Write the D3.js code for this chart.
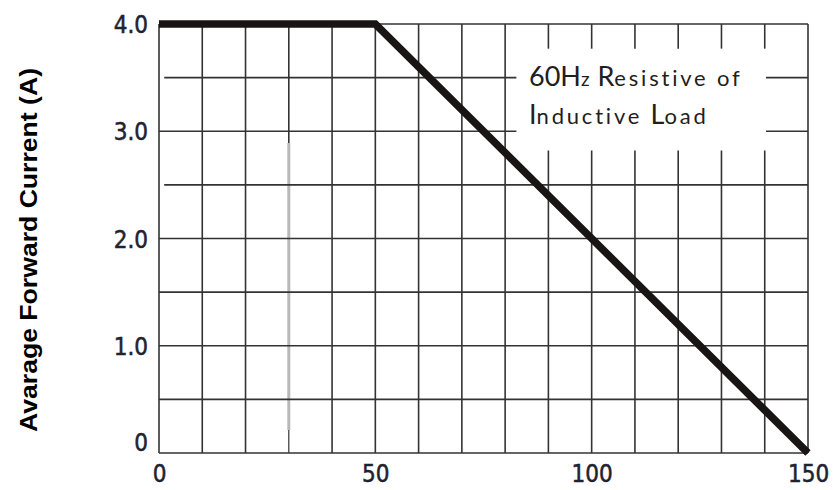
<!DOCTYPE html>
<html lang="en">
<head>
  <meta charset="UTF-8">
  <title>Forward Current Derating Curve</title>
  <script src="https://cdn.jsdelivr.net/npm/d3@7/dist/d3.min.js"></script>
  <style>
    body { margin: 0; background: #fff; }
    .grid line { stroke: #333; stroke-width: 1.6; }
    .tick-label { font-family: "Liberation Sans Narrow", "DejaVu Sans Condensed", sans-serif; font-size: 24px; fill: #1f2330; stroke: #1f2330; stroke-width: 0.5px; }
  </style>
</head>
<body>
  <svg id="chart" width="834" height="490"></svg>
  <script>
    // curve: current vs temperature
    const curveX = [0, 50, 150];
    const curveY = [4.0, 4.0, 0];

    const xTicks = [0, 50, 100, 150];
    const xTickLabels = ['0', '50', '100', '150'];
    const yTicks = [0, 1, 2, 3, 4];
    const yTickLabels = ['0', '1.0', '2.0', '3.0', '4.0'];
    const xGrid = d3.range(0, 151, 10);
    const yGrid = d3.range(0, 4.01, 0.5);

    const svg = d3.select('#chart');
    const x = d3.scaleLinear().domain([0, 150]).range([159, 808]);
    const y = d3.scaleLinear().domain([0, 4]).range([453, 24]);

    // white box behind the note (in data units)
    const box = {x0: 82.6, x1: 140.3, y0: 2.82, y1: 3.77};

    const grid = svg.append('g').attr('class', 'grid');

    // vertical grid lines, broken where the note sits
    xGrid.forEach(v => {
      if (v === 30) return;
      if (v > box.x0 && v < box.x1) {
        grid.append('line').attr('x1', x(v)).attr('x2', x(v)).attr('y1', y(4)).attr('y2', y(box.y1));
        grid.append('line').attr('x1', x(v)).attr('x2', x(v)).attr('y1', y(box.y0)).attr('y2', y(0));
      } else {
        grid.append('line').attr('x1', x(v)).attr('x2', x(v)).attr('y1', y(4)).attr('y2', y(0));
      }
    });

    // the 30 line is faded in the scan
    grid.append('line').attr('x1', x(30)).attr('x2', x(30)).attr('y1', y(4)).attr('y2', 143);
    grid.append('line').attr('x1', x(30)).attr('x2', x(30)).attr('y1', 143).attr('y2', 430)
      .style('stroke', '#b8b8b8').style('stroke-width', 3);
    grid.append('line').attr('x1', x(30)).attr('x2', x(30)).attr('y1', 430).attr('y2', y(0))
      .style('stroke-width', 1.2);

    // horizontal grid lines
    yGrid.forEach(v => {
      const start = (v === 3.5 || v === 2.5) ? x(1.2) : x(0);
      if (v < box.y1 && v > box.y0) {
        grid.append('line').attr('x1', start).attr('x2', x(box.x0)).attr('y1', y(v)).attr('y2', y(v));
        grid.append('line').attr('x1', x(box.x1)).attr('x2', x(150)).attr('y1', y(v)).attr('y2', y(v));
      } else {
        grid.append('line').attr('x1', start).attr('x2', x(150)).attr('y1', y(v)).attr('y2', y(v));
      }
    });

    // note
    const note = svg.append('text')
      .attr('font-family', 'Lato, "Open Sans", sans-serif')
      .attr('fill', '#231d1b');
    const line1 = note.append('tspan').attr('x', 529).attr('y', 86);
    line1.append('tspan').attr('font-size', 27).text('60H');
    line1.append('tspan').attr('font-size', 19).attr('letter-spacing', 1.5).text('z ');
    line1.append('tspan').attr('font-size', 27).text('R');
    line1.append('tspan').attr('font-size', 22).attr('letter-spacing', 2.8).text('esistive of');
    const line2 = note.append('tspan').attr('x', 529).attr('y', 124);
    line2.append('tspan').attr('font-size', 27).text('I');
    line2.append('tspan').attr('font-size', 22).attr('letter-spacing', 2.8).text('nductive ');
    line2.append('tspan').attr('font-size', 27).text('L');
    line2.append('tspan').attr('font-size', 22).attr('letter-spacing', 2.8).text('oad');

    // derating curve
    const pts = curveX.map((d, i) => [d, curveY[i]]);
    svg.append('path')
      .attr('d', d3.line().x(d => x(d[0])).y(d => y(d[1]))(pts))
      .attr('fill', 'none')
      .attr('stroke', '#1a1515')
      .attr('stroke-width', 7.5)
      .attr('stroke-linejoin', 'miter');

    // axes labels
    const yAxis = d3.axisLeft(y).tickValues(yTicks).tickFormat((d, i) => yTickLabels[i]).tickSize(0).tickPadding(11);
    const yG = svg.append('g').attr('transform', `translate(${x(0)},0)`).call(yAxis);
    yG.select('.domain').remove();
    yG.selectAll('text').attr('class', 'tick-label').attr('dy', d => d === 0 ? '-0.1em' : '0.36em');

    const xAxis = d3.axisBottom(x).tickValues(xTicks).tickFormat((d, i) => xTickLabels[i]).tickSize(0).tickPadding(12);
    const xG = svg.append('g').attr('transform', `translate(0,${y(0)})`).call(xAxis);
    xG.select('.domain').remove();
    xG.selectAll('text').attr('class', 'tick-label');

    svg.append('text')
      .attr('transform', `translate(37,250) rotate(-90)`)
      .attr('text-anchor', 'middle')
      .attr('font-family', '"Liberation Sans", Arial, sans-serif')
      .attr('font-weight', 'bold')
      .attr('font-size', 23)
      .attr('textLength', 364)
      .attr('lengthAdjust', 'spacingAndGlyphs')
      .attr('fill', '#000')
      .text('Avarage Forward Current (A)');
  </script>
</body>
</html>
